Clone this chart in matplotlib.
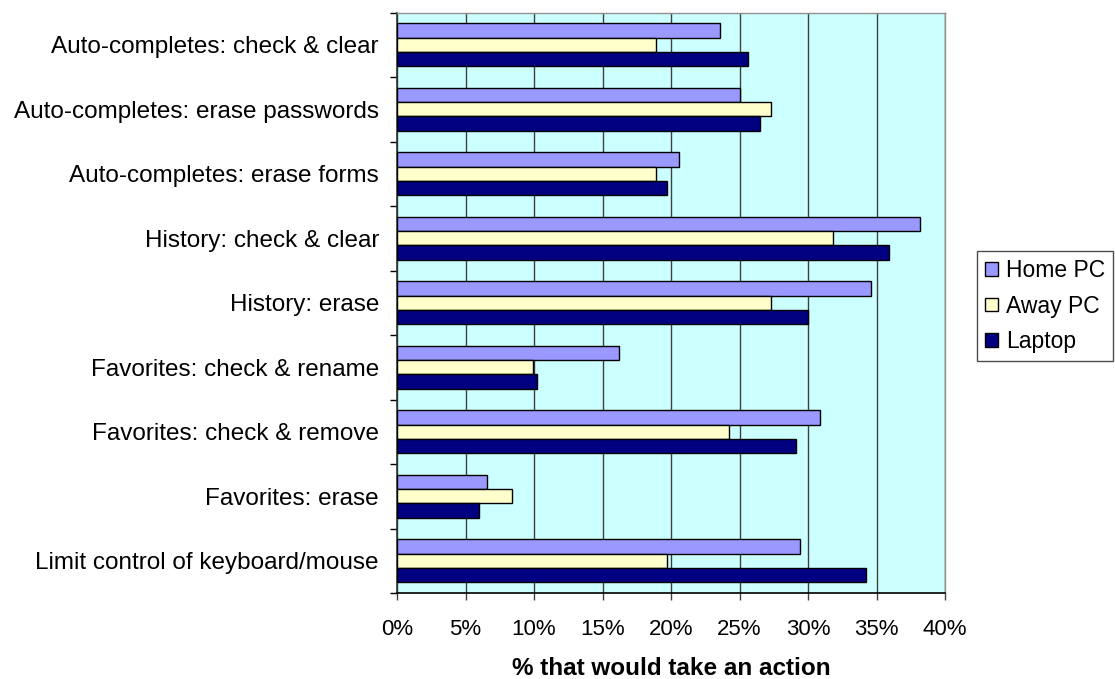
import matplotlib
matplotlib.use("Agg")
import matplotlib.pyplot as plt
import numpy as np

plt.rcParams['font.family'] = ['Liberation Sans', 'DejaVu Sans']

categories = [
    "Auto-completes: check & clear",
    "Auto-completes: erase passwords",
    "Auto-completes: erase forms",
    "History: check & clear",
    "History: erase",
    "Favorites: check & rename",
    "Favorites: check & remove",
    "Favorites: erase",
    "Limit control of keyboard/mouse",
]
home_pc = [23.6, 25.0, 20.6, 38.2, 34.6, 16.2, 30.9, 6.6, 29.4]
away_pc = [18.9, 27.3, 18.9, 31.8, 27.3, 9.9, 24.2, 8.4, 19.7]
laptop = [25.6, 26.5, 19.7, 35.9, 30.0, 10.2, 29.1, 6.0, 34.2]
series_names = ["Home PC", "Away PC", "Laptop"]
series_colors = ["#9999FF", "#FFFFCC", "#000080"]
x_ticks = [0, 5, 10, 15, 20, 25, 30, 35, 40]
x_label = "% that would take an action"

W, H = 1115, 679
fig = plt.figure(figsize=(W / 100, H / 100), dpi=100)
left, right, top, bottom = 397, 945, 12.5, 593
ax = fig.add_axes([left / W, 1 - bottom / H, (right - left) / W, (bottom - top) / H])
ax.set_facecolor("#CCFFFF")

y = np.arange(len(categories))
bh = 1 / 4.5
for i, (vals, name, col) in enumerate(zip([home_pc, away_pc, laptop], series_names, series_colors)):
    ax.barh(y + (i - 1) * bh, vals, height=bh, color=col, edgecolor="black",
            linewidth=1.0, label=name, zorder=3)

ax.set_xlim(0, 40)
ax.set_ylim(len(categories) - 0.5, -0.5)

ax.set_xticks(x_ticks)
ax.set_xticklabels([f"{t}%" for t in x_ticks])
ax.set_yticks(y)
ax.set_yticklabels(categories)
ax.set_yticks(np.arange(-0.5, len(categories), 1), minor=True)
ax.tick_params(axis="y", which="major", length=0, pad=13, labelsize=17.5)
ax.tick_params(axis="y", which="minor", length=5, width=1, color="black")
ax.tick_params(axis="x", which="major", length=5, width=1, pad=14, labelsize=16, color="#404040")

ax.xaxis.grid(True, color="#404040", linewidth=1, zorder=1)
ax.set_axisbelow(True)

for s in ["top", "right"]:
    ax.spines[s].set_color("#909090")
    ax.spines[s].set_linewidth(1)
ax.spines["left"].set_color("#303030")
ax.spines["bottom"].set_color("black")
ax.spines["left"].set_linewidth(1.2)
ax.spines["bottom"].set_linewidth(1.2)

ax.set_xlabel(x_label, fontsize=17.5, fontweight="bold", labelpad=12)

leg = fig.legend(loc="upper left", bbox_to_anchor=(977 / W, 1 - 251 / H),
                 fontsize=16.5, frameon=True, fancybox=False, shadow=False,
                 handlelength=0.55, handleheight=0.55, handletextpad=0.35,
                 borderpad=0.35, labelspacing=0.55, borderaxespad=0)
leg.get_frame().set_edgecolor("#202020")
leg.get_frame().set_linewidth(1)

fig.savefig("out.png", dpi=100)
